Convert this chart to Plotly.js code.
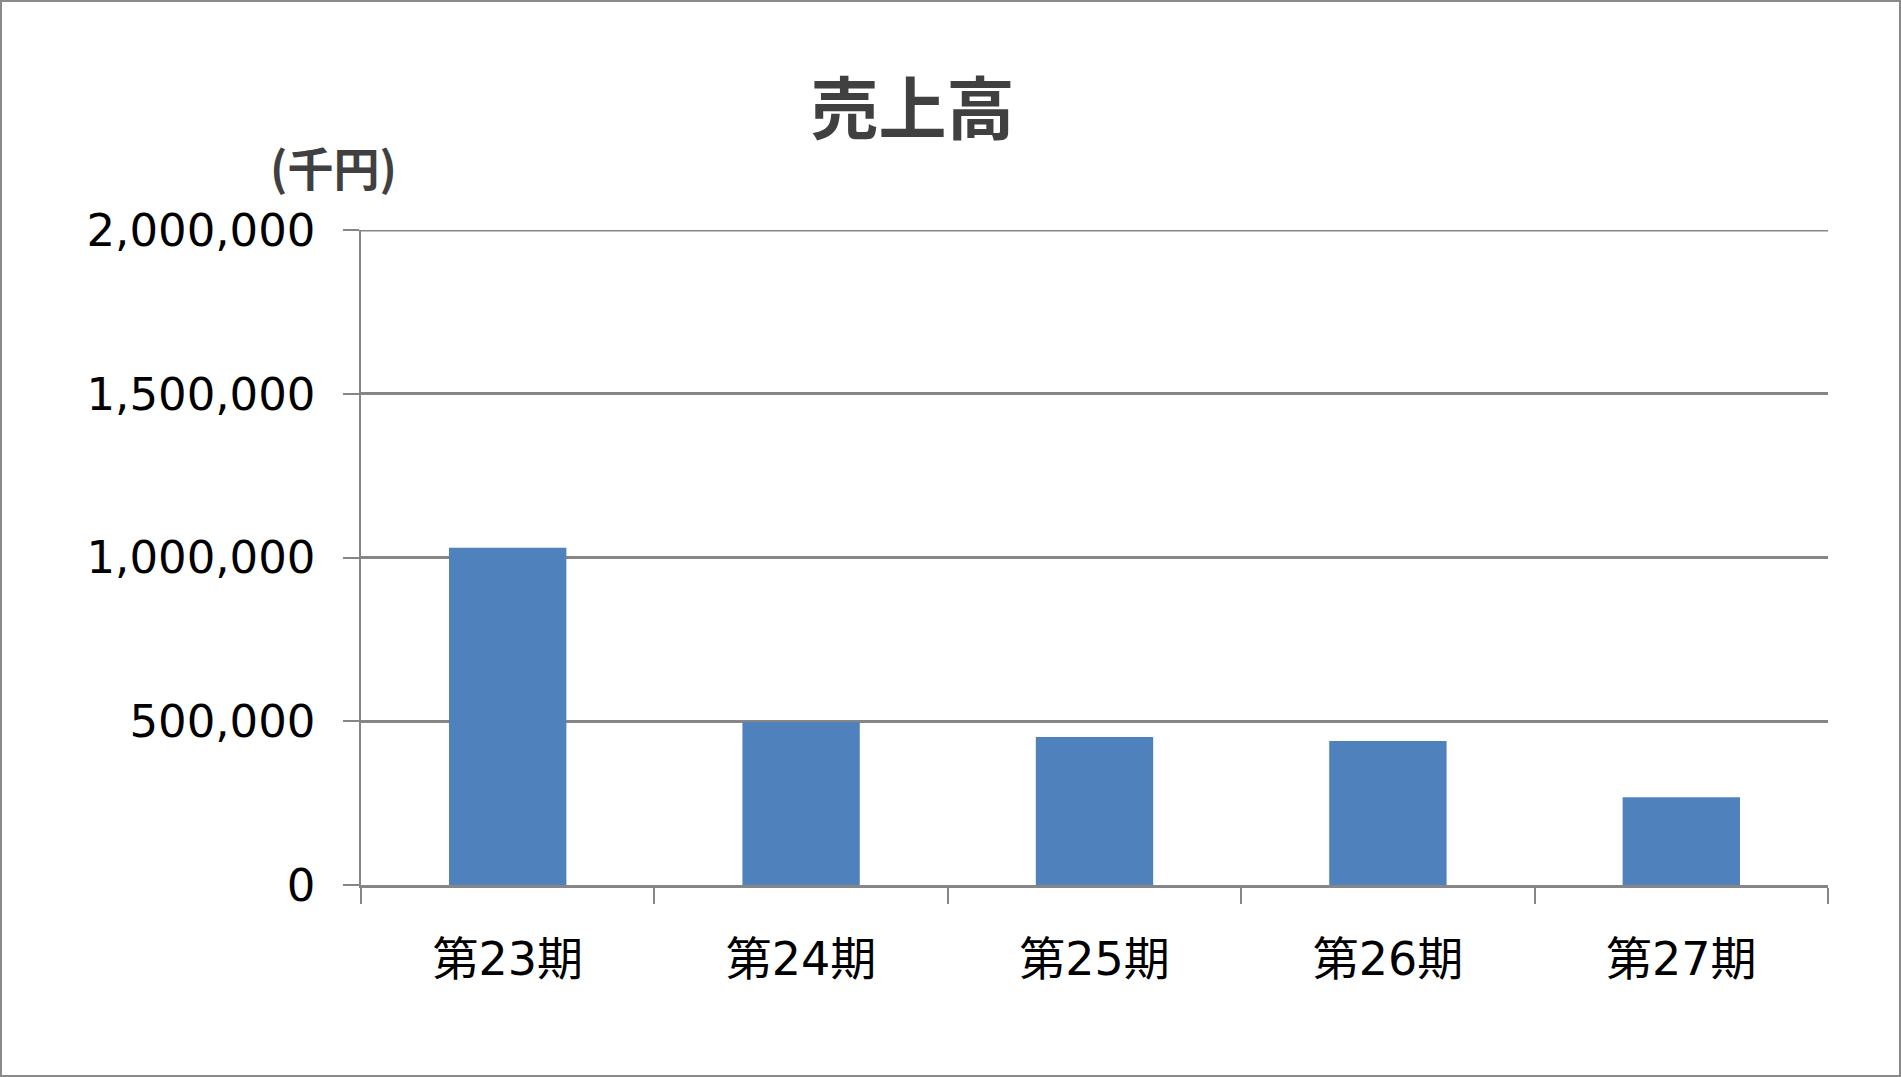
<!DOCTYPE html>
<html>
<head>
<meta charset="utf-8">
<script src="https://cdn.plot.ly/plotly-3.0.1.min.js"></script>
<style>
html,body{margin:0;padding:0;background:#fff;}
#chart{width:1901px;height:1077px;box-sizing:border-box;border:2px solid #8a8a8a;}
</style>
</head>
<body>
<div id="chart"></div>
<script>
const categories = ["第23期", "第24期", "第25期", "第26期", "第27期"];
const sales = [1030000, 498000, 452000, 440000, 268000];
const yTickValues = [0, 500000, 1000000, 1500000, 2000000];
const yTickLabels = ["0", "500,000", "1,000,000", "1,500,000", "2,000,000"];
const chartTitle = "売上高";
const unitLabel = "(千円)";

const FONT = "'Noto Sans CJK JP', 'Noto Sans', sans-serif";
const TICKFONT = "'DejaVu Sans', 'Noto Sans CJK JP', sans-serif";
const GRID = "#868686";
const yMax = yTickValues[yTickValues.length - 1];

const trace = {
  type: "bar",
  x: categories,
  y: sales,
  marker: {color: "#4F81BD", line: {width: 0}},
  width: 0.4,
  hoverinfo: "x+y"
};

const layout = {
  width: 1897,
  height: 1073,
  margin: {l: 359, r: 71, t: 228, b: 190, pad: 0},
  paper_bgcolor: "#ffffff",
  plot_bgcolor: "#ffffff",
  showlegend: false,
  title: {
    text: chartTitle,
    font: {family: FONT, size: 68, color: "#404040", weight: "bold"},
    x: 0.48, xref: "container", xanchor: "center",
    y: 0.899, yref: "container", yanchor: "middle"
  },
  xaxis: {
    type: "category",
    showgrid: false,
    showline: true,
    linecolor: GRID,
    linewidth: 3,
    ticks: "outside",
    tickson: "boundaries",
    ticklen: 16,
    tickwidth: 2,
    tickcolor: GRID,
    ticklabelstandoff: 32,
    tickfont: {family: TICKFONT, size: 46, color: "#000000"},
    zeroline: false
  },
  yaxis: {
    range: [0, yMax],
    tickvals: yTickValues,
    ticktext: yTickLabels,
    showgrid: true,
    gridcolor: GRID,
    gridwidth: 3,
    showline: true,
    linecolor: GRID,
    linewidth: 2.5,
    ticks: "outside",
    ticklen: 16,
    tickwidth: 2,
    tickcolor: GRID,
    ticklabelstandoff: 18,
    tickfont: {family: TICKFONT, size: 45, color: "#000000"},
    zeroline: false
  },
  shapes: [{
    type: "line", xref: "paper", yref: "y",
    x0: 0, x1: 1, y0: yMax, y1: yMax,
    line: {color: GRID, width: 3}, layer: "below"
  }],
  annotations: [{
    text: unitLabel,
    xref: "paper", yref: "paper",
    x: -0.019, y: 1.098,
    xanchor: "center", yanchor: "middle",
    showarrow: false,
    font: {family: FONT, size: 46, color: "#404040", weight: "bold"}
  }]
};

Plotly.newPlot("chart", [trace], layout, {displayModeBar: false, staticPlot: true});
</script>
</body>
</html>
